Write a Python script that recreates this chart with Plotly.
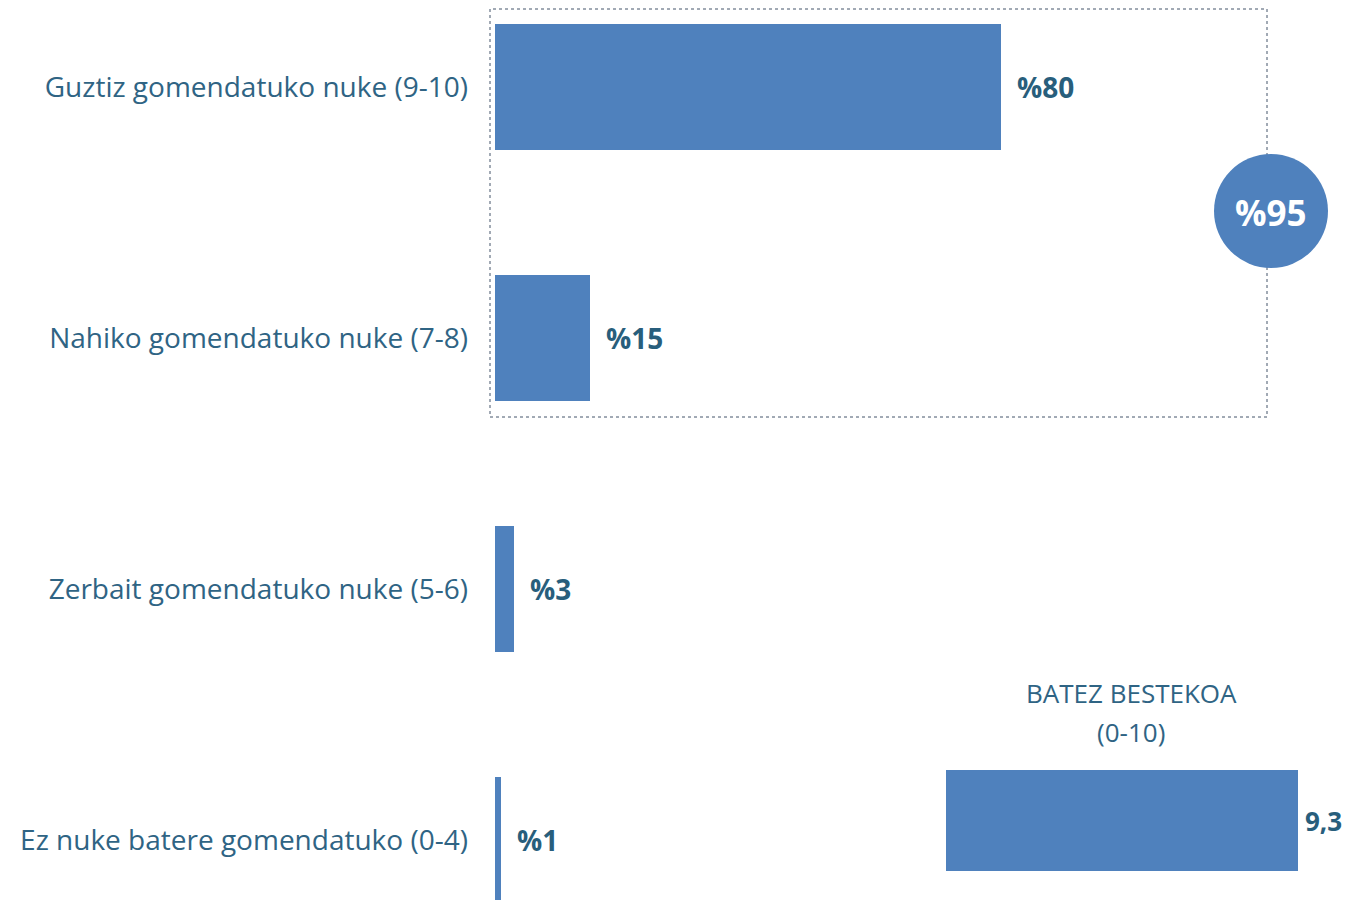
import plotly.graph_objects as go

# Recommendation answers (share of respondents, %)
categories = ['Guztiz gomendatuko nuke (9-10)', 'Nahiko gomendatuko nuke (7-8)',
              'Zerbait gomendatuko nuke (5-6)', 'Ez nuke batere gomendatuko (0-4)']
shares = [80, 15, 3, 1]
share_labels = ['%80', '%15', '%3', '%1']

# Top two answers together
top_total_label = '%95'

# Average score (0-10)
mean_title_lines = ['BATEZ BESTEKOA', '(0-10)']
mean_value = 9.3
mean_label = '9,3'

W, H = 1350, 900
OFF = 8  # page body margin, the figure is drawn 8px in from the corner
bar_color = '#4F81BD'
text_color = '#2F6484'
label_color = '#285E7C'
font_family = 'Open Sans, Lato, sans-serif'


def px_x(p):
    return (p - OFF) / W


def px_y(p):
    return 1 - (p - OFF) / H


fig = go.Figure()

fig.add_trace(go.Bar(
    x=shares, y=categories, orientation='h', width=0.5,
    marker=dict(color=bar_color, line=dict(width=0)),
    xaxis='x', yaxis='y', hoverinfo='skip'
))

fig.add_trace(go.Bar(
    x=[mean_value], y=['mean'], orientation='h', width=1,
    marker=dict(color=bar_color, line=dict(width=0)),
    xaxis='x2', yaxis='y2', hoverinfo='skip'
))

# value labels next to bars
for cat, v, lab in zip(categories, shares, share_labels):
    fig.add_annotation(x=v, y=cat, xref='x', yref='y', text='<b>' + lab + '</b>',
                       showarrow=False, xanchor='left', yanchor='middle', xshift=14,
                       font=dict(size=28, color=label_color, family=font_family))

fig.add_annotation(x=mean_value, y='mean', xref='x2', yref='y2', text='<b>' + mean_label + '</b>',
                   showarrow=False, xanchor='left', yanchor='middle', xshift=5,
                   font=dict(size=26, color=label_color, family=font_family))

for line, yy in zip(mean_title_lines, [693, 732]):
    fig.add_annotation(x=px_x(1131), y=px_y(yy), xref='paper', yref='paper', text=line,
                       showarrow=False, xanchor='center', yanchor='middle',
                       font=dict(size=26, color=text_color, family=font_family))

# dotted frame around the top two answers and the total bubble
fig.add_shape(type='rect', xref='paper', yref='paper',
              x0=px_x(490), x1=px_x(1267), y0=px_y(417), y1=px_y(9),
              line=dict(color='#44546A', width=1, dash='dot'))
fig.add_shape(type='circle', xref='paper', yref='paper',
              x0=px_x(1214), x1=px_x(1328), y0=px_y(268), y1=px_y(154),
              fillcolor=bar_color, line=dict(width=0))
fig.add_annotation(x=px_x(1271), y=px_y(212), xref='paper', yref='paper',
                   text='<b>' + top_total_label + '</b>', showarrow=False,
                   xanchor='center', yanchor='middle',
                   font=dict(size=35, color='white', family=font_family))

px_per_unit = 251
top_center = 87 - OFF
fig.update_layout(
    width=W, height=H,
    margin=dict(l=0, r=0, t=0, b=0),
    paper_bgcolor='white', plot_bgcolor='white',
    showlegend=False,
    font=dict(family=font_family, color=text_color),
    xaxis=dict(domain=[px_x(495), 1], range=[0, (W - 495 + OFF) / 6.325], visible=False),
    yaxis=dict(domain=[0, 1], type='category', categoryorder='array', categoryarray=categories,
               range=[(H - top_center) / px_per_unit, -top_center / px_per_unit],
               showgrid=False, zeroline=False, showline=False, ticks='',
               ticklabelstandoff=26, tickfont=dict(size=28, color=text_color, family=font_family)),
    xaxis2=dict(domain=[px_x(946), px_x(946 + 352 / 9.3 * 10)], range=[0, 10], visible=False,
                anchor='y2'),
    yaxis2=dict(domain=[px_y(871), px_y(770)], range=[-0.5, 0.5], visible=False,
                anchor='x2'),
    bargap=0
)

fig.write_html('out.html')
